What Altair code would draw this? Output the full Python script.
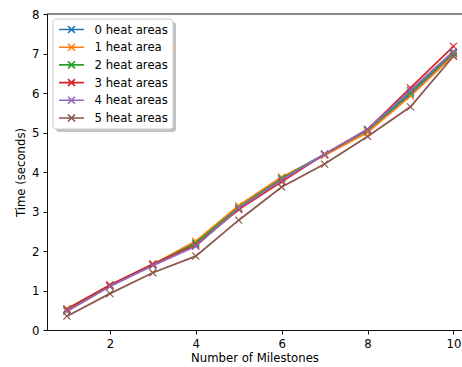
import altair as alt
import pandas as pd

milestones = [1, 2, 3, 4, 5, 6, 7, 8, 9, 10]
series_names = ["0 heat areas", "1 heat area", "2 heat areas", "3 heat areas", "4 heat areas", "5 heat areas"]
t0 = [0.50, 1.12, 1.65, 2.20, 3.10, 3.85, 4.45, 5.05, 5.97, 7.00]
t1 = [0.50, 1.12, 1.66, 2.25, 3.15, 3.87, 4.42, 5.00, 5.92, 6.95]
t2 = [0.53, 1.13, 1.66, 2.20, 3.10, 3.83, 4.45, 5.06, 6.02, 7.02]
t3 = [0.53, 1.14, 1.67, 2.15, 3.05, 3.75, 4.45, 5.08, 6.13, 7.18]
t4 = [0.47, 1.10, 1.63, 2.12, 3.08, 3.80, 4.45, 5.08, 6.07, 7.05]
t5 = [0.35, 0.92, 1.45, 1.87, 2.78, 3.62, 4.20, 4.90, 5.65, 6.93]
colors = ["#1f77b4", "#ff7f0e", "#2ca02c", "#d62728", "#9467bd", "#8c564b"]

rows = []
for i, (name, vals) in enumerate(zip(series_names, [t0, t1, t2, t3, t4, t5])):
    for m, v in zip(milestones, vals):
        rows.append({"series": name, "order": i, "milestones": m, "time": v})
df = pd.DataFrame(rows)

W, H = 415, 316
FONT = "DejaVu Sans"
FS = 11.7
XMARK = "M-1,-1L1,1M-1,1L1,-1"
LEG_SYM = "M-2,0L2,0M-0.56,-0.56L0.56,0.56M-0.56,0.56L0.56,-0.56"

x_enc = alt.X("milestones:Q", scale=alt.Scale(domain=[0.536, 10.2], nice=False, zero=False),
              axis=alt.Axis(values=[2, 4, 6, 8, 10], title="Number of Milestones", titlePadding=3))
y_enc = alt.Y("time:Q", scale=alt.Scale(domain=[0, 8], nice=False),
              axis=alt.Axis(values=[0, 1, 2, 3, 4, 5, 6, 7, 8], title="Time (seconds)", titlePadding=5))
legend = alt.Legend(title=None, orient="none", legendX=6, legendY=5, symbolType=LEG_SYM,
                    symbolSize=156, symbolStrokeWidth=1.6, symbolFillColor="transparent",
                    symbolOffset=8, labelOffset=15.5, padding=3, rowPadding=2.7,
                    fillColor="transparent", strokeColor="transparent",
                    labelFont=FONT, labelFontSize=FS, labelColor="black")
c_enc = alt.Color("series:N", scale=alt.Scale(domain=series_names, range=colors), legend=legend)

base = alt.Chart(df)
lines = base.mark_line(strokeWidth=1.77).encode(x=x_enc, y=y_enc, color=c_enc, detail="series:N",
                                               order="milestones:Q")
points = base.mark_point(shape=XMARK, size=49, strokeWidth=1.2, filled=False, opacity=1).encode(
    x=x_enc, y=y_enc, color=c_enc)

deco = alt.Chart(pd.DataFrame({"a": [0]}))
top_spine = deco.mark_rule(color="black", strokeWidth=0.94).encode(
    x=alt.value(0), x2=alt.value(W), y=alt.value(0))
shadow = deco.mark_rect(color="#888888", opacity=0.5, cornerRadius=3).encode(
    x=alt.value(9), x2=alt.value(129), y=alt.value(8), y2=alt.value(118))
frame = deco.mark_rect(fill="white", stroke="#cccccc", strokeWidth=1, cornerRadius=3).encode(
    x=alt.value(6), x2=alt.value(126), y=alt.value(5), y2=alt.value(115))

chart = alt.layer(top_spine, lines, points, shadow, frame).properties(
    width=W, height=H, autosize="none",
    padding={"left": 47, "top": 14, "right": 0, "bottom": 37},
).configure_view(stroke=None).configure_axis(
    grid=False, domainColor="black", domainWidth=0.94, tickColor="black", tickWidth=0.94,
    tickSize=4, labelPadding=4, labelFont=FONT, labelFontSize=FS, labelColor="black",
    titleFont=FONT, titleFontSize=FS, titleColor="black", titleFontWeight="normal",
)

chart.save("out.html", embed_options={"renderer": "svg", "actions": False})
